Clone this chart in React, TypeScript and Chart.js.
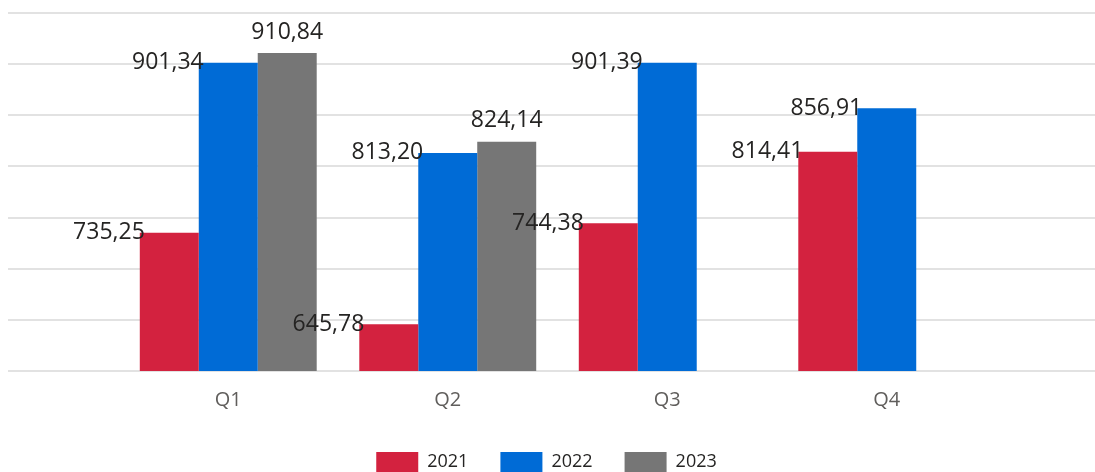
import React, { useEffect, useRef } from 'react';
import { Chart, registerables } from 'chart.js';

Chart.register(...registerables);

const categories = ['Q1', 'Q2', 'Q3', 'Q4'];
const seriesNames = ['2021', '2022', '2023'];
const values2021 = [735.25, 645.78, 744.38, 814.41];
const values2022 = [901.34, 813.2, 901.39, 856.91];
const values2023: (number | null)[] = [910.84, 824.14, null, null];
const yTicks = [600, 650, 700, 750, 800, 850, 900, 950];
const seriesColors = ['#D3223F', '#006BD6', '#767676'];

const FONT = '"Segoe UI", "Open Sans", sans-serif';
const CANVAS_W = 1087;
const CANVAS_H = 474;

const fullGridPlugin = {
  id: 'fullGrid',
  beforeDatasetsDraw(chart: any) {
    const { ctx } = chart;
    const y = chart.scales.y;
    ctx.save();
    ctx.strokeStyle = '#e2e2e2';
    ctx.lineWidth = 2;
    yTicks.forEach((v) => {
      const py = Math.round(y.getPixelForValue(v));
      ctx.beginPath();
      ctx.moveTo(0, py);
      ctx.lineTo(chart.width, py);
      ctx.stroke();
    });
    ctx.restore();
  },
};

const legendShiftPlugin = {
  id: 'legendShift',
  afterLayout(chart: any) {
    if (chart.legend) {
      chart.legend.left -= 11;
      chart.legend.right -= 11;
    }
  },
};

const valueLabelPlugin = {
  id: 'valueLabels',
  afterDatasetsDraw(chart: any) {
    const ctx = chart.ctx;
    ctx.save();
    ctx.font = `23px ${FONT}`;
    ctx.fillStyle = '#252423';
    ctx.textBaseline = 'middle';
    chart.data.datasets.forEach((ds: any, di: number) => {
      const meta = chart.getDatasetMeta(di);
      meta.data.forEach((el: any, i: number) => {
        const v = ds.data[i];
        if (v == null) return;
        const text = Number(v).toFixed(2).replace('.', ',');
        const { x, y, width } = el.getProps(['x', 'y', 'width'], true);
        if (di === 2) {
          ctx.textAlign = 'center';
          ctx.fillText(text, x, y - 21);
        } else {
          ctx.textAlign = 'right';
          ctx.fillText(text, x - width / 2 + 5, y);
        }
      });
    });
    ctx.restore();
  },
};

export default function App() {
  const canvasRef = useRef<HTMLCanvasElement | null>(null);

  useEffect(() => {
    const prevRight = document.body.style.marginRight;
    const prevBottom = document.body.style.marginBottom;
    document.body.style.marginRight = '0px';
    document.body.style.marginBottom = '0px';
    return () => {
      document.body.style.marginRight = prevRight;
      document.body.style.marginBottom = prevBottom;
    };
  }, []);

  useEffect(() => {
    if (!canvasRef.current) return;
    const seriesData = [values2021, values2022, values2023];
    const chart = new Chart(canvasRef.current, {
      type: 'bar',
      data: {
        labels: categories,
        datasets: seriesNames.map((name, i) => ({
          label: name,
          data: seriesData[i],
          backgroundColor: seriesColors[i],
          borderWidth: 0,
          categoryPercentage: 0.806,
          barPercentage: 1.0,
        })),
      },
      options: {
        responsive: false,
        maintainAspectRatio: false,
        animation: false,
        devicePixelRatio: 1,
        events: [],
        layout: { padding: { left: 110.5, right: 98.5, top: 5, bottom: 0 } },
        plugins: {
          tooltip: { enabled: false },
          legend: {
            position: 'bottom',
            labels: {
              boxWidth: 42,
              boxHeight: 20,
              padding: 32,
              color: '#252423',
              font: { family: FONT, size: 18 },
            },
          },
        },
        scales: {
          x: {
            grid: { display: false },
            border: { display: false },
            ticks: { color: '#605E5C', font: { family: FONT, size: 20 }, padding: 9 },
            afterFit: (s: any) => {
              s.height = 49;
            },
          },
          y: {
            display: false,
            min: 600,
            max: 950,
            ticks: { stepSize: 50 },
          },
        },
      },
      plugins: [fullGridPlugin, valueLabelPlugin, legendShiftPlugin],
    });
    return () => chart.destroy();
  }, []);

  return (
    <div style={{ width: CANVAS_W, height: 464, overflow: 'hidden' }}>
      <canvas
        ref={canvasRef}
        width={CANVAS_W}
        height={CANVAS_H}
        style={{ display: 'block', width: CANVAS_W, height: CANVAS_H }}
      />
    </div>
  );
}
